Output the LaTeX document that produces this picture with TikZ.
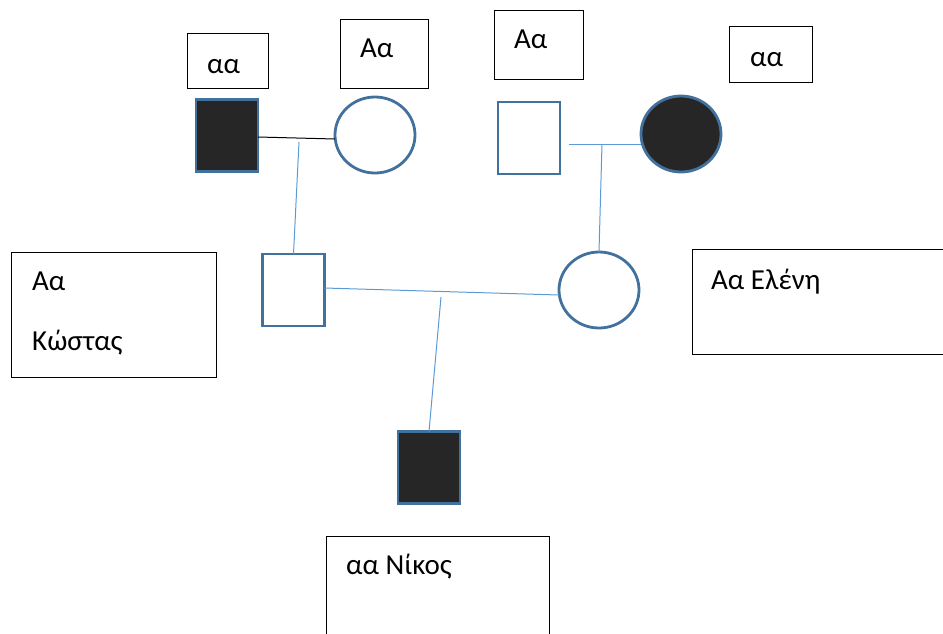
\documentclass[tikz,border=0pt]{standalone}
\usepackage{fontspec}
\setmainfont{Carlito}
\usetikzlibrary{shapes.geometric}
\definecolor{symblue}{HTML}{41719C}
\definecolor{symfill}{HTML}{262626}
\definecolor{linkblue}{HTML}{5B9BD5}
\begin{document}
\begin{tikzpicture}[x=1pt,y=-1pt,
  sym/.style={draw=symblue, line width=2.8pt, inner sep=0pt, outer sep=0pt},
  sq/.style={sym, rectangle, minimum width=62pt, minimum height=72pt},
  circ/.style={sym, ellipse, minimum width=80pt, minimum height=76pt},
  filled/.style={fill=symfill},
  lbl/.style={draw=black, line width=1pt, rectangle, inner sep=0pt, outer sep=0pt},
  conn/.style={draw=linkblue, line width=1pt},
  txt/.style={font=\fontsize{29}{34}\selectfont, inner sep=0pt, anchor=base west}]
\useasboundingbox (0,0) rectangle (943,633);
\clip (0,0) rectangle (943,633);
% label boxes
\node[lbl, minimum width=81pt, minimum height=55pt] (b1) at (227.5,60.5) {};
\node[lbl, minimum width=88pt, minimum height=69pt] (b2) at (384,54) {};
\node[lbl, minimum width=89pt, minimum height=69pt] (b3) at (538.5,44.5) {};
\node[lbl, minimum width=83pt, minimum height=56pt] (b4) at (770.5,54) {};
\node[lbl, minimum width=205pt, minimum height=125pt] (b5) at (113.5,314.5) {};
\node[lbl, minimum width=260pt, minimum height=105pt] (b6) at (822,301.5) {};
\node[lbl, minimum width=223pt, minimum height=120pt] (b7) at (437.5,596) {};
% texts
\node[txt] (t1) at (207,73) {αα};
\node[txt] (t2) at (360,57) {Αα};
\node[txt] (t3) at (514,48) {Αα};
\node[txt] (t4) at (750,66) {αα};
\node[txt] (t5a) at (32,290) {Αα};
\node[txt] (t5b) at (32,350) {Κώστας};
\node[txt] (t6) at (711,289) {Αα Ελένη};
\node[txt] (t7) at (346,574) {αα Νίκος};
% symbols
\node[sq, filled] (gf1) at (227,135.5) {};
\node[circ] (gm1) at (375,135) {};
\node[sq] (gf2) at (529,138) {};
\node[circ, filled] (gm2) at (681,134) {};
\node[sq] (kostas) at (293.5,290) {};
\node[circ] (eleni) at (599,290) {};
\node[sq, filled] (nikos) at (429,467.5) {};
% connectors
\draw[line width=1pt] (gf1.east |- 0,137) -- (gm1.west |- 0,139);
\coordinate (m1) at (299,142);
\draw[conn] (m1) -- (kostas.north);
\coordinate (s2) at (569,144);
\draw[conn] (s2) -- (gm2.west |- 0,144);
\coordinate (m2) at (602,144);
\draw[conn] (m2) -- (eleni.north);
\draw[conn] (kostas.east |- 0,288) -- (eleni.west |- 0,295);
\coordinate (m3) at (441,297);
\draw[conn] (m3) -- (nikos.north);
\end{tikzpicture}
\end{document}
